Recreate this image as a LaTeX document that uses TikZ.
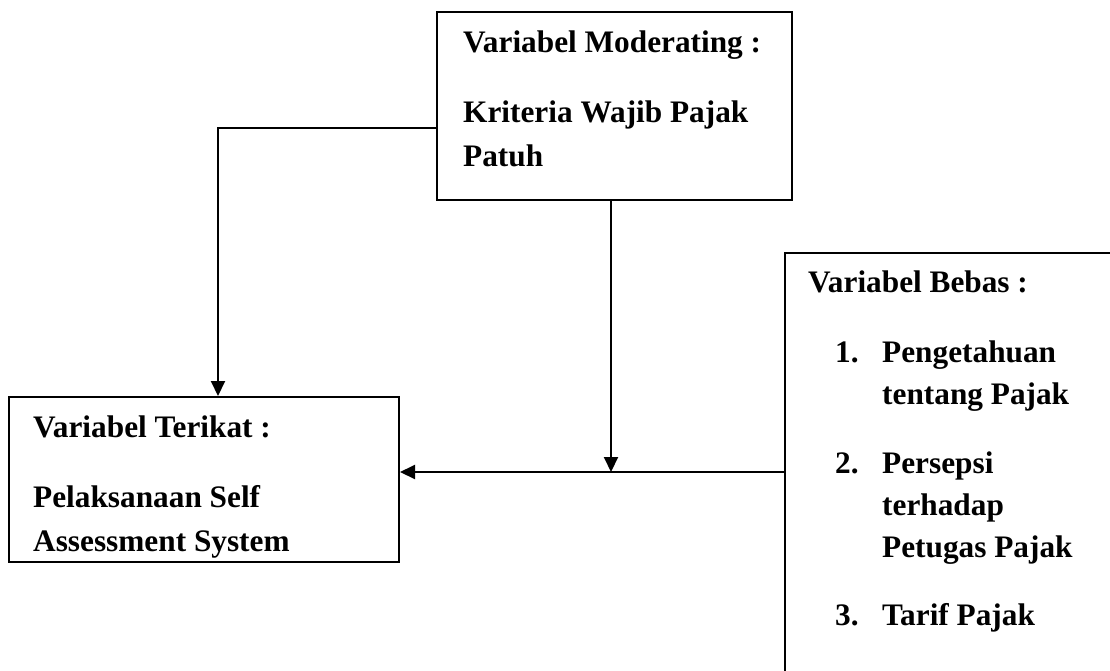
\documentclass[tikz,border=0pt]{standalone}
\usepackage{fontspec}
\setmainfont{Liberation Serif}
\usetikzlibrary{arrows.meta}

\begin{document}
\begin{tikzpicture}[x=1pt,y=-1pt,
    box/.style={draw,line width=2pt,inner sep=0pt},
    lbl/.style={anchor=base west,inner sep=0pt,align=left,font=\fontsize{31.3}{44}\selectfont\bfseries},
    arr/.style={line width=2pt,-{Triangle[length=15pt,width=14pt]}}]
        \useasboundingbox (0,0) rectangle (1110,670);
        \clip (0,0) rectangle (1110,670);
        \fill[white] (0,0) rectangle (1110,670);
        % boxes
        \node[box,minimum width=355pt,minimum height=188pt] (mod) at (614.5,106) {};
        \node[box,minimum width=390pt,minimum height=165pt] (dep) at (204,479.5) {};
        \node[box,minimum width=345pt,minimum height=447pt] (ind) at (957.5,476.5) {};
        % texts (multi-line nodes sit on their last baseline)
        \node[lbl] (modhead) at (463,52) {Variabel Moderating :};
        \node[lbl] (modtext) at (463,166) {Kriteria Wajib Pajak\\Patuh};
        \node[lbl] (dephead) at (33,437) {Variabel Terikat :};
        \node[lbl] (deptext) at (33,551) {Pelaksanaan Self\\Assessment System};
        \node[lbl] (indhead) at (808,292) {Variabel Bebas :};
        \node[lbl] (num1) at (835,362) {1.};
        \node[lbl,font=\fontsize{31.3}{42}\selectfont\bfseries] (item1) at (882,404) {Pengetahuan\\tentang Pajak};
        \node[lbl] (num2) at (835,473) {2.};
        \node[lbl,font=\fontsize{31.3}{42}\selectfont\bfseries] (item2) at (882,557) {Persepsi\\terhadap\\Petugas Pajak};
        \node[lbl] (num3) at (835,625) {3.};
        \node[lbl] (item3) at (882,625) {Tarif Pajak};
        % connectors
        \coordinate (elbow) at (218,128);
        \coordinate (join) at (611,472);
        \draw[arr] (mod.west |- elbow) -| (dep.north -| elbow);
        \draw[arr] (ind.west |- join) -- (dep.east |- join);
        \draw[arr] (mod.south -| join) -- (join);
\end{tikzpicture}
\end{document}
